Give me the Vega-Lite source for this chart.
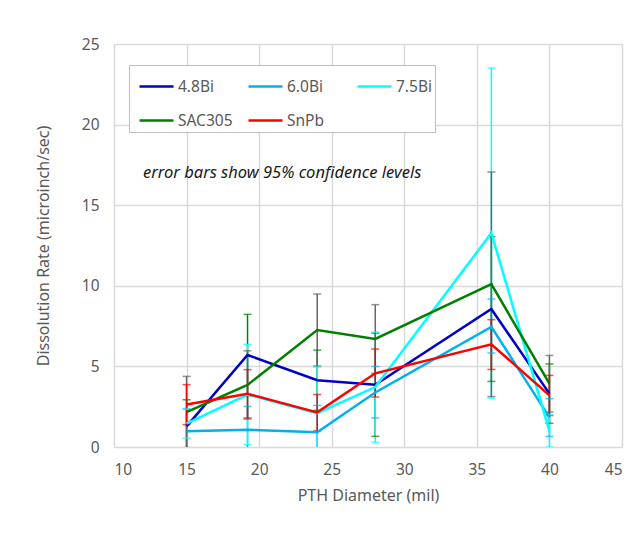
{
  "$schema": "https://vega.github.io/schema/vega-lite/v6.json",
  "autosize": {"type": "none"},
  "width": 508,
  "height": 403,
  "padding": {"left": 114, "top": 44, "right": 22, "bottom": 86},
  "background": "white",
  "config": {
    "font": "Noto Sans",
    "view": {"stroke": null},
    "axis": {
      "labelFont": "Noto Sans",
      "titleFont": "Noto Sans",
      "labelFontSize": 15.5,
      "titleFontSize": 16,
      "titleFontWeight": "normal",
      "labelColor": "#595959",
      "titleColor": "#595959",
      "gridColor": "#D9D9D9",
      "gridWidth": 1.5,
      "ticks": false,
      "domain": false
    }
  },
  "datasets": {
    "rates": [
      {"series": "4.8Bi", "d": 15, "rate": 1.28, "lo": -0.37, "hi": 2.93},
      {"series": "4.8Bi", "d": 19.2, "rate": 5.71, "lo": 3.19, "hi": 8.23},
      {"series": "4.8Bi", "d": 24, "rate": 4.14, "lo": 2.27, "hi": 6.01},
      {"series": "4.8Bi", "d": 28, "rate": 3.86, "lo": 0.66, "hi": 7.06},
      {"series": "4.8Bi", "d": 36, "rate": 8.56, "lo": 4.07, "hi": 13.05},
      {"series": "4.8Bi", "d": 40, "rate": 3.31, "lo": 1.47, "hi": 5.15},
      {"series": "6.0Bi", "d": 15, "rate": 0.97, "lo": -0.42, "hi": 2.36},
      {"series": "6.0Bi", "d": 19.2, "rate": 1.07, "lo": -0.38, "hi": 2.52},
      {"series": "6.0Bi", "d": 24, "rate": 0.91, "lo": -0.76, "hi": 2.58},
      {"series": "6.0Bi", "d": 28, "rate": 3.38, "lo": 1.8, "hi": 5.0},
      {"series": "6.0Bi", "d": 36, "rate": 7.45, "lo": 5.83, "hi": 9.18},
      {"series": "6.0Bi", "d": 40, "rate": 1.84, "lo": 0.66, "hi": 3.0},
      {"series": "7.5Bi", "d": 15, "rate": 1.45, "lo": 0.55, "hi": 2.35},
      {"series": "7.5Bi", "d": 19.2, "rate": 3.25, "lo": 0.15, "hi": 6.37},
      {"series": "7.5Bi", "d": 24, "rate": 2.1, "lo": -0.76, "hi": 4.96},
      {"series": "7.5Bi", "d": 28, "rate": 3.72, "lo": 0.29, "hi": 7.13},
      {"series": "7.5Bi", "d": 36, "rate": 13.27, "lo": 3.03, "hi": 23.51},
      {"series": "7.5Bi", "d": 40, "rate": 1.0, "lo": 0.0, "hi": 2.0},
      {"series": "SAC305", "d": 15, "rate": 2.17, "lo": -0.04, "hi": 4.38},
      {"series": "SAC305", "d": 19.2, "rate": 3.85, "lo": 1.73, "hi": 5.97},
      {"series": "SAC305", "d": 24, "rate": 7.26, "lo": 5.02, "hi": 9.49},
      {"series": "SAC305", "d": 28, "rate": 6.7, "lo": 4.57, "hi": 8.83},
      {"series": "SAC305", "d": 36, "rate": 10.1, "lo": 3.13, "hi": 17.06},
      {"series": "SAC305", "d": 40, "rate": 3.93, "lo": 2.17, "hi": 5.68},
      {"series": "SnPb", "d": 15, "rate": 2.64, "lo": 1.39, "hi": 3.87},
      {"series": "SnPb", "d": 19.2, "rate": 3.3, "lo": 1.8, "hi": 4.8},
      {"series": "SnPb", "d": 24, "rate": 2.15, "lo": 1.0, "hi": 3.26},
      {"series": "SnPb", "d": 28, "rate": 4.57, "lo": 3.1, "hi": 6.08},
      {"series": "SnPb", "d": 36, "rate": 6.37, "lo": 4.81, "hi": 7.9},
      {"series": "SnPb", "d": 40, "rate": 3.2, "lo": 1.95, "hi": 4.44}
    ],
    "note": [
      {"d": 12.0, "rate": 17.0, "label": "error bars show 95% confidence levels"}
    ]
  },
  "layer": [
    {
      "data": {"name": "rates"},
      "layer": [
        {
          "mark": {"type": "rule", "strokeWidth": 1.5, "clip": true},
          "encoding": {
            "x": {"field": "d", "type": "quantitative", "scale": {"domain": [10, 45], "nice": false}},
            "y": {"field": "lo", "type": "quantitative", "scale": {"domain": [0, 25], "nice": false}},
            "y2": {"field": "hi"},
            "color": {"field": "series", "type": "nominal", "legend": null,
              "scale": {"domain": ["4.8Bi", "6.0Bi", "7.5Bi", "SAC305", "SnPb"],
                        "range": ["#008000", "#00B0F0", "#00FFFF", "#666666", "#FF0000"]}}
          }
        },
        {
          "mark": {"type": "tick", "orient": "horizontal", "size": 8, "thickness": 1.5, "clip": true},
          "encoding": {
            "x": {"field": "d", "type": "quantitative", "scale": {"domain": [10, 45], "nice": false}},
            "y": {"field": "lo", "type": "quantitative", "scale": {"domain": [0, 25], "nice": false}},
            "color": {"field": "series", "type": "nominal", "legend": null}
          }
        },
        {
          "mark": {"type": "tick", "orient": "horizontal", "size": 8, "thickness": 1.5, "clip": true},
          "encoding": {
            "x": {"field": "d", "type": "quantitative", "scale": {"domain": [10, 45], "nice": false}},
            "y": {"field": "hi", "type": "quantitative", "scale": {"domain": [0, 25], "nice": false}},
            "color": {"field": "series", "type": "nominal", "legend": null}
          }
        }
      ]
    },
    {
      "data": {"name": "rates"},
      "mark": {"type": "line", "strokeWidth": 2.5, "clip": true},
      "encoding": {
        "x": {"field": "d", "type": "quantitative",
          "scale": {"domain": [10, 45], "nice": false},
          "axis": {"values": [10, 15, 20, 25, 30, 35, 40, 45], "title": "PTH Diameter (mil)",
                   "labelPadding": 15, "titlePadding": 10, "grid": true}},
        "y": {"field": "rate", "type": "quantitative",
          "scale": {"domain": [0, 25], "nice": false},
          "axis": {"values": [0, 5, 10, 15, 20, 25], "title": "Dissolution Rate (microinch/sec)",
                   "labelPadding": 15, "titlePadding": 30}},
        "color": {"field": "series", "type": "nominal",
          "scale": {"domain": ["4.8Bi", "6.0Bi", "7.5Bi", "SAC305", "SnPb"],
                    "range": ["#0000C8", "#00B0F0", "#00FFFF", "#008000", "#FF0000"]},
          "legend": {
            "title": null,
            "orient": "none",
            "legendX": 15,
            "legendY": 21,
            "direction": "horizontal",
            "columns": 3,
            "gridAlign": "all",
            "symbolType": "stroke",
            "symbolSize": 1156,
            "symbolStrokeWidth": 2.5,
            "symbolOffset": 6,
            "labelFont": "Noto Sans",
            "labelFontSize": 15.5,
            "labelColor": "#595959",
            "labelOffset": 3,
            "columnPadding": 8,
            "rowPadding": 7,
            "padding": 3,
            "strokeColor": "#BFBFBF",
            "fillColor": "white"
          }
        }
      }
    },
    {
      "data": {"name": "note"},
      "mark": {"type": "text", "align": "left", "baseline": "middle", "fontStyle": "italic",
               "fontSize": 16.5, "font": "Noto Sans", "color": "#1A1A1A"},
      "encoding": {
        "x": {"field": "d", "type": "quantitative", "scale": {"domain": [10, 45], "nice": false}},
        "y": {"field": "rate", "type": "quantitative", "scale": {"domain": [0, 25], "nice": false}},
        "text": {"field": "label"}
      }
    }
  ],
  "resolve": {"scale": {"color": "independent"}}
}
